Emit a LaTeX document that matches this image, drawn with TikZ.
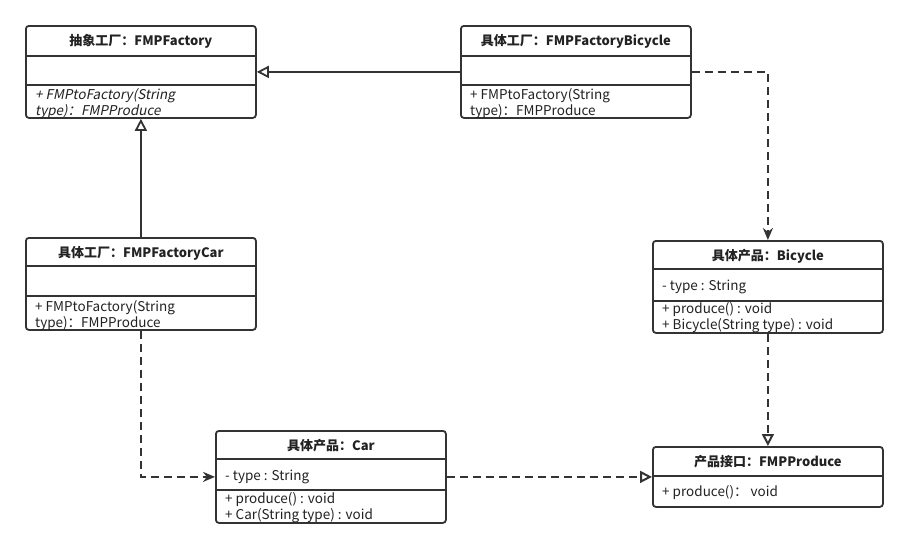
\documentclass[tikz,border=0pt]{standalone}
\usepackage{fontspec}
\setmainfont{Noto Sans CJK SC}[AutoFakeSlant=0.2]
\usetikzlibrary{arrows.meta}
\definecolor{umlline}{HTML}{333333}
\definecolor{umltext}{HTML}{222222}
\tikzset{
  umlbox/.style={draw=umlline, line width=1.8pt, rounded corners=3pt, fill=white,
    anchor=north west, minimum width=230, inner sep=0pt},
  sep/.style={draw=umlline, line width=1.6pt},
  title/.style={font=\fontsize{13}{15}\selectfont\bfseries, text=umltext, inner sep=0pt},
  member/.style={font=\fontsize{13.5}{15}\selectfont, text=umltext, inner sep=0pt, anchor=west},
  inherit/.style={draw=umlline, line width=1.8pt, -{Triangle[open, length=12pt, width=12pt]}},
  depend/.style={draw=umlline, line width=2pt, dash pattern=on 8pt off 5pt,
    -{Stealth[length=12pt, width=10pt]}},
  realize/.style={draw=umlline, line width=2pt, dash pattern=on 8pt off 5pt,
    -{Triangle[open, length=12pt, width=12pt]}}
}

\begin{document}
\begin{tikzpicture}[x=1pt, y=-1pt]

\path[fill=white] (0,0) rectangle (907,547);

% abstract factory
\node[umlbox, minimum height=92] (absfac) at (25,25) {};
\draw[sep] ([yshift=-31]absfac.north west) -- ([yshift=-31]absfac.north east);
\draw[sep] ([yshift=-60]absfac.north west) -- ([yshift=-60]absfac.north east);
\node[title] (absfac-n) at ([yshift=-16]absfac.north) {\itshape 抽象工厂：FMPFactory};
\node[member] (absfac-m1) at ([xshift=10,yshift=-71]absfac.north west) {\itshape + FMPtoFactory(String};
\node[member] (absfac-m2) at ([xshift=10,yshift=-87]absfac.north west) {\itshape type)：FMPProduce};

% concrete factory bicycle
\node[umlbox, minimum height=92] (facbic) at (460,25) {};
\draw[sep] ([yshift=-31]facbic.north west) -- ([yshift=-31]facbic.north east);
\draw[sep] ([yshift=-60]facbic.north west) -- ([yshift=-60]facbic.north east);
\node[title] (facbic-n) at ([yshift=-16]facbic.north) {具体工厂：FMPFactoryBicycle};
\node[member] (facbic-m1) at ([xshift=10,yshift=-71]facbic.north west) {+ FMPtoFactory(String};
\node[member] (facbic-m2) at ([xshift=10,yshift=-87]facbic.north west) {type)：FMPProduce};

% concrete factory car
\node[umlbox, minimum height=92] (faccar) at (25,237) {};
\draw[sep] ([yshift=-29]faccar.north west) -- ([yshift=-29]faccar.north east);
\draw[sep] ([yshift=-59]faccar.north west) -- ([yshift=-59]faccar.north east);
\node[title] (faccar-n) at ([yshift=-16]faccar.north) {具体工厂：FMPFactoryCar};
\node[member] (faccar-m1) at ([xshift=10,yshift=-71]faccar.north west) {+ FMPtoFactory(String};
\node[member] (faccar-m2) at ([xshift=10,yshift=-87]faccar.north west) {type)：FMPProduce};

% product bicycle
\node[umlbox, minimum height=92] (bic) at (652,240) {};
\draw[sep] ([yshift=-29]bic.north west) -- ([yshift=-29]bic.north east);
\draw[sep] ([yshift=-61]bic.north west) -- ([yshift=-61]bic.north east);
\node[title] (bic-n) at ([yshift=-16]bic.north) {具体产品：Bicycle};
\node[member] (bic-a1) at ([xshift=10,yshift=-47]bic.north west) {- type : String};
\node[member] (bic-m1) at ([xshift=10,yshift=-70]bic.north west) {+ produce() : void};
\node[member] (bic-m2) at ([xshift=10,yshift=-86]bic.north west) {+ Bicycle(String type) : void};

% product car
\node[umlbox, minimum height=92] (car) at (215,430) {};
\draw[sep] ([yshift=-29]car.north west) -- ([yshift=-29]car.north east);
\draw[sep] ([yshift=-60]car.north west) -- ([yshift=-60]car.north east);
\node[title] (car-n) at ([yshift=-16]car.north) {具体产品：Car};
\node[member] (car-a1) at ([xshift=10,yshift=-47]car.north west) {- type : String};
\node[member] (car-m1) at ([xshift=10,yshift=-70]car.north west) {+ produce() : void};
\node[member] (car-m2) at ([xshift=10,yshift=-86]car.north west) {+ Car(String type) : void};

% product interface
\node[umlbox, minimum height=60] (prod) at (652,446) {};
\draw[sep] ([yshift=-30]prod.north west) -- ([yshift=-30]prod.north east);
\node[title] (prod-n) at ([yshift=-16]prod.north) {产品接口：FMPProduce};
\node[member] (prod-m1) at ([xshift=10,yshift=-47]prod.north west) {+ produce()： void};

% connectors
\draw[inherit] (facbic.west) -- (absfac.east);
\draw[inherit] (faccar.north) -- (absfac.south);
\draw[depend] (facbic.east) -| (bic.north);
\draw[depend] (faccar.south) |- (car.west);
\draw[realize] (bic.south) -- (prod.north);
\draw[realize] (car.east) -- (prod.west);

\end{tikzpicture}
\end{document}
